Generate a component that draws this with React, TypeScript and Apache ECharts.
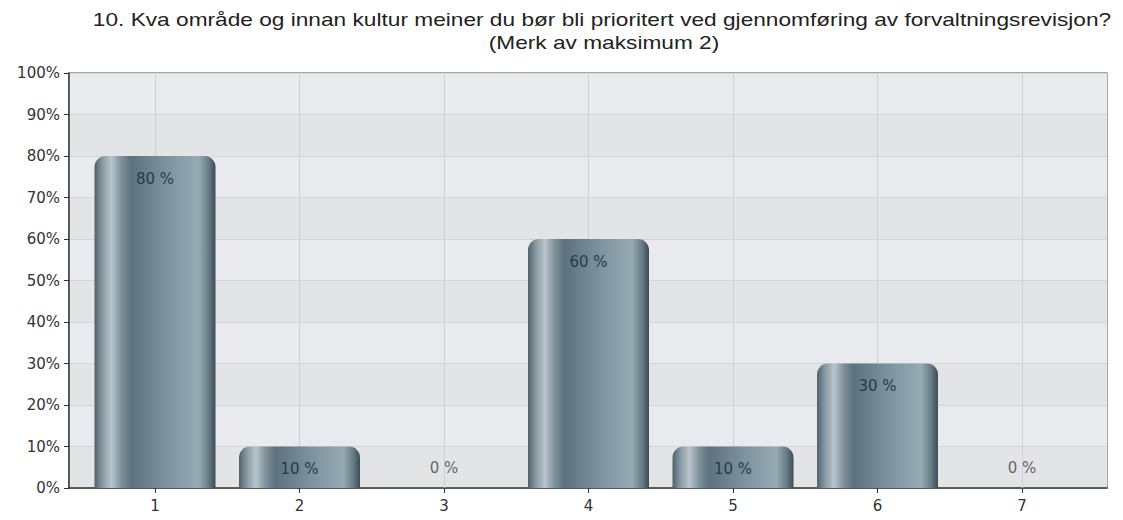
import React, { useEffect, useRef } from "react";
import * as echarts from "echarts";

const titleLine1 = "10. Kva område og innan kultur meiner du bør bli prioritert ved gjennomføring av forvaltningsrevisjon?";
const titleLine2 = "(Merk av maksimum 2)";
const categories = ["1", "2", "3", "4", "5", "6", "7"];
const values = [80, 10, 0, 60, 10, 30, 0];
const yMin = 0;
const yMax = 100;
const yStep = 10;

const FONT = "DejaVu Sans, Arial, sans-serif";
const TITLE_FONT = "Liberation Sans, Arial, sans-serif";

export default function App() {
  const ref = useRef<HTMLDivElement>(null);
  useEffect(() => {
    if (!ref.current) return;
    const chart = echarts.init(ref.current, null, { renderer: "svg" });
    const barGradient = new echarts.graphic.LinearGradient(0, 0, 1, 0, [
      { offset: 0, color: "#4f616b" },
      { offset: 0.06, color: "#8595a0" },
      { offset: 0.14, color: "#b9c5ca" },
      { offset: 0.22, color: "#7e919b" },
      { offset: 0.3, color: "#5d727e" },
      { offset: 0.6, color: "#7d939f" },
      { offset: 0.86, color: "#96aab4" },
      { offset: 0.94, color: "#6a7e89" },
      { offset: 1, color: "#3d4c55" },
    ]);
    chart.setOption({
      animation: false,
      backgroundColor: "#ffffff",
      textStyle: { fontFamily: FONT },
      graphic: [
        {
          type: "text",
          x: 602,
          y: 19,
          scaleX: 1.26,
          style: {
            text: titleLine1,
            fontSize: 18,
            fontFamily: TITLE_FONT,
            fill: "#222",
            align: "center",
            verticalAlign: "middle",
          },
        },
        {
          type: "text",
          x: 604,
          y: 42,
          scaleX: 1.26,
          style: {
            text: titleLine2,
            fontSize: 18,
            fontFamily: TITLE_FONT,
            fill: "#222",
            align: "center",
            verticalAlign: "middle",
          },
        },
      ],
      grid: [
        {
          left: 69,
          right: 16,
          top: 73,
          bottom: 32,
          show: true,
          borderColor: "#8a8a8a",
          borderWidth: 1.5,
          backgroundColor: "transparent",
          containLabel: false,
        },
        {
          left: 82.75,
          right: 28.75,
          top: 73,
          bottom: 32,
          containLabel: false,
        },
      ],
      xAxis: [
        {
          type: "value",
          gridIndex: 0,
          min: 0,
          max: 1,
          axisLine: { show: true, onZero: false, lineStyle: { color: "#333", width: 1.5 } },
          axisTick: { show: false },
          axisLabel: { show: false },
          splitLine: { show: false },
        },
        {
          type: "category",
          gridIndex: 1,
          data: categories,
          boundaryGap: true,
          axisLine: { show: false },
          axisTick: { show: true, alignWithLabel: true, length: 5, lineStyle: { color: "#333" } },
          axisLabel: { color: "#333", fontSize: 15, margin: 10, fontFamily: FONT },
          splitLine: { show: false },
        },
      ],
      yAxis: [
        {
          type: "value",
          gridIndex: 0,
          min: yMin,
          max: yMax,
          interval: yStep,
          axisLine: { show: true, lineStyle: { color: "#333", width: 1.5 } },
          axisTick: { show: true, length: 5, lineStyle: { color: "#333" } },
          axisLabel: { formatter: "{value}%", color: "#333", fontSize: 15, margin: 9, fontFamily: FONT },
          splitLine: { show: true, lineStyle: { color: "#d3d6d9", width: 1 } },
          splitArea: { show: true, areaStyle: { color: ["#e3e4e6", "#e8eaed"] } },
        },
        {
          type: "value",
          gridIndex: 1,
          min: yMin,
          max: yMax,
          interval: yStep,
          show: false,
          splitLine: { show: false },
        },
      ],
      series: [
        {
          type: "line",
          xAxisIndex: 1,
          yAxisIndex: 1,
          data: [],
          z: 1,
          silent: true,
          markLine: {
            z: 1,
            silent: true,
            symbol: ["none", "none"],
            label: { show: false },
            lineStyle: { color: "#cdd0d4", type: "solid", width: 1 },
            data: categories.map((c) => ({ xAxis: c })),
          },
        },
        {
          type: "bar",
          xAxisIndex: 1,
          yAxisIndex: 1,
          z: 10,
          barWidth: 121,
          data: values.map((v) => ({
            value: v,
            label:
              v === 0
                ? { show: true, position: "top", distance: 13, color: "#666" }
                : { show: true, position: "insideTop", distance: 15, color: "#2c3a42" },
          })),
          itemStyle: {
            color: barGradient,
            borderRadius: [11, 11, 0, 0],
          },
          label: {
            show: true,
            formatter: "{c} %",
            fontSize: 15,
            fontFamily: FONT,
          },
        },
      ],
    });
    return () => chart.dispose();
  }, []);
  return (
    <div
      ref={ref}
      style={{ position: "fixed", left: 0, top: 0, width: 1123, height: 520 }}
    />
  );
}
